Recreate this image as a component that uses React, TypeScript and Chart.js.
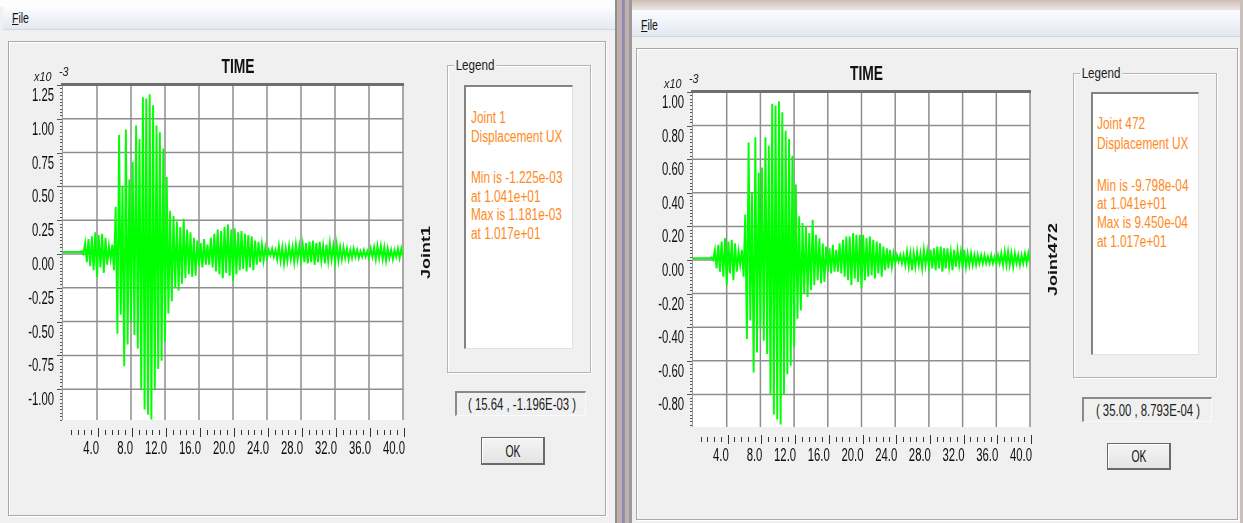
import React, { useEffect, useRef } from "react";
import { Chart, registerables } from "chart.js";
Chart.register(...registerables);

// ---------------- DATA ----------------
// Sampling step of the time axis, seconds (time of sample i = i * TIME_STEP)
const TIME_STEP = 0.2;

// Joint 1, Displacement UX, in units of 1e-3
const JOINT1_UX = [
  0.015, 0.015, 0.015, 0.015, 0.015, 0.015, 0.015, 0.015, 0.015, 0.015,
  0.015, 0.02, 0.0, 0.08, -0.06, 0.11, -0.09, 0.13, -0.12, 0.16,
  -0.17, 0.14, -0.1, 0.15, -0.14, 0.12, -0.08, 0.06, -0.04, 0.07,
  -0.12, 0.35, -0.59, 0.88, -0.45, 0.5, -0.83, 0.92, -0.67, 0.55,
  -0.5, 0.68, -0.6, 0.95, -0.7, 0.85, -1.0, 1.16, -1.15, 1.15,
  -1.19, 1.181, -1.225, 1.1, -1.0, 0.95, -0.85, 0.9, -0.79, 0.78,
  -0.65, 0.57, -0.44, 0.32, -0.35, 0.28, -0.25, 0.24, -0.27, 0.2,
  -0.22, 0.26, -0.18, 0.18, -0.15, 0.16, -0.17, 0.12, -0.16, 0.1,
  -0.09, 0.08, -0.1, 0.11, -0.08, 0.07, -0.08, 0.12, -0.1, 0.15,
  -0.13, 0.18, -0.15, 0.17, -0.18, 0.2, -0.14, 0.22, -0.16, 0.18,
  -0.2, 0.19, -0.15, 0.16, -0.12, 0.17, -0.11, 0.15, -0.13, 0.14,
  -0.1, 0.13, -0.12, 0.1, -0.08, 0.09, -0.06, 0.07, -0.05, 0.05,
  -0.03, 0.03, -0.01, 0.04, -0.02, 0.03, -0.04, 0.06, -0.05, 0.05,
  -0.07, 0.04, -0.05, 0.06, -0.04, 0.05, -0.06, 0.07, -0.04, 0.06,
  -0.05, 0.07, -0.06, 0.08, -0.07, 0.09, -0.06, 0.1, -0.08, 0.08,
  -0.06, 0.09, -0.05, 0.06, -0.07, 0.07, -0.05, 0.08, -0.04, 0.06,
  -0.06, 0.07, -0.05, 0.05, -0.04, 0.05, -0.03, 0.04, -0.04, 0.03,
  -0.03, 0.04, -0.02, 0.03, -0.03, 0.02, -0.02, 0.03, -0.02, 0.02,
  -0.03, 0.04, -0.02, 0.05, -0.04, 0.06, -0.03, 0.06, -0.04, 0.05,
  -0.05, 0.04, -0.03, 0.03, -0.04, 0.03, -0.02, 0.04, -0.03, 0.04,
  -0.02,
];

// Joint 472, Displacement UX, in units of 1e-3
const JOINT472_UX = [
  0.01, 0.01, 0.01, 0.01, 0.01, 0.01, 0.01, 0.01, 0.01, 0.01,
  0.01, 0.015, 0.0, 0.06, -0.05, 0.09, -0.07, 0.11, -0.1, 0.13,
  -0.15, 0.11, -0.08, 0.12, -0.12, 0.1, -0.07, 0.05, -0.03, 0.06,
  -0.1, 0.27, -0.47, 0.7, -0.36, 0.4, -0.67, 0.73, -0.55, 0.52,
  -0.4, 0.55, -0.48, 0.73, -0.56, 0.68, -0.8, 0.93, -0.92, 0.92,
  -0.95, 0.945, -0.9798, 0.88, -0.8, 0.77, -0.68, 0.72, -0.63, 0.62,
  -0.52, 0.45, -0.35, 0.26, -0.3, 0.22, -0.2, 0.2, -0.22, 0.16,
  -0.18, 0.24, -0.15, 0.15, -0.12, 0.13, -0.14, 0.1, -0.13, 0.08,
  -0.07, 0.07, -0.08, 0.09, -0.07, 0.06, -0.07, 0.1, -0.08, 0.12,
  -0.1, 0.14, -0.12, 0.14, -0.15, 0.16, -0.11, 0.15, -0.13, 0.15,
  -0.17, 0.15, -0.12, 0.13, -0.1, 0.14, -0.09, 0.12, -0.11, 0.11,
  -0.08, 0.1, -0.1, 0.08, -0.06, 0.07, -0.05, 0.06, -0.04, 0.04,
  -0.02, 0.03, -0.01, 0.03, -0.02, 0.03, -0.03, 0.05, -0.04, 0.04,
  -0.06, 0.04, -0.04, 0.05, -0.03, 0.04, -0.05, 0.06, -0.03, 0.05,
  -0.04, 0.06, -0.05, 0.07, -0.06, 0.08, -0.05, 0.08, -0.07, 0.07,
  -0.05, 0.07, -0.04, 0.05, -0.06, 0.06, -0.04, 0.06, -0.03, 0.05,
  -0.05, 0.06, -0.04, 0.04, -0.03, 0.04, -0.03, 0.03, -0.03, 0.03,
  -0.02, 0.03, -0.02, 0.03, -0.02, 0.02, -0.02, 0.03, -0.02, 0.02,
  -0.02, 0.03, -0.02, 0.04, -0.03, 0.05, -0.03, 0.05, -0.03, 0.04,
  -0.04, 0.04, -0.02, 0.03, -0.03, 0.03, -0.02, 0.04, -0.02, 0.04,
  -0.02,
];

// Axis ticks
const X_MAX = 40;
const X_TICKS = [4, 8, 12, 16, 20, 24, 28, 32, 36, 40];
const X_MINOR_STEP = 0.8;
const JOINT1_Y_TICKS = [-1.0, -0.75, -0.5, -0.25, 0.0, 0.25, 0.5, 0.75, 1.0, 1.25];
const JOINT472_Y_TICKS = [-0.8, -0.6, -0.4, -0.2, 0.0, 0.2, 0.4, 0.6, 0.8, 1.0];

const JOINT1_LEGEND = ["Joint 1", "Displacement  UX", "", "Min is -1.225e-03", "at 1.041e+01", "Max is 1.181e-03", "at 1.017e+01"];
const JOINT472_LEGEND = ["Joint 472", "Displacement  UX", "", "Min is -9.798e-04", "at 1.041e+01", "Max is 9.450e-04", "at 1.017e+01"];

// ---------------- HELPERS ----------------
const FONT = "'Liberation Sans', Arial, sans-serif";
const W = 1243;
const H = 523;

function ctext(ctx: CanvasRenderingContext2D, s: string, x: number, y: number, o: any) {
  ctx.save();
  ctx.translate(x, y);
  if (o.rot) ctx.rotate(o.rot);
  ctx.scale(o.sx ?? 1, o.sy ?? 1);
  ctx.font = `${o.italic ? "italic " : ""}${o.bold ? "bold " : ""}${o.size}px ${FONT}`;
  ctx.fillStyle = o.color ?? "#0d0d0d";
  ctx.textAlign = o.align ?? "left";
  ctx.textBaseline = "alphabetic";
  ctx.fillText(s, 0, o.size * 0.36);
  ctx.restore();
}

function Txt({ x, y, children, size = 16, sx = 0.73, color = "#1a1a1a", weight = 400, align = "left", bg }: any) {
  const h = Math.round(size * 1.2);
  const style: any = {
    position: "absolute",
    top: y - h / 2,
    height: h,
    lineHeight: h + "px",
    fontSize: size,
    color,
    fontWeight: weight,
    whiteSpace: "nowrap",
    transform: `scaleX(${sx})`,
    transformOrigin: "left center",
  };
  if (bg) {
    style.background = bg;
    style.padding = "0 2px";
  }
  if (align === "left") style.left = x;
  else {
    style.left = x;
    style.transformOrigin = "center center";
    style.transform = `translateX(-50%) scaleX(${sx})`;
  }
  return <div style={style}>{children}</div>;
}

function Box({ x, y, w, h, style }: any) {
  return <div style={{ position: "absolute", left: x, top: y, width: w, height: h, boxSizing: "border-box", ...style }} />;
}

// ---------------- CHART ----------------
function TimeChart({ left, top, width, height, pad, values, yMin, yMax, yTicks, yMinor, sideLabel }: any) {
  const ref = useRef<HTMLCanvasElement | null>(null);
  useEffect(() => {
    const canvas = ref.current;
    if (!canvas) return;
    const decor = {
      id: "sapDecor",
      beforeDatasetsDraw(chart: any) {
        const { ctx, chartArea: a, scales } = chart;
        const xs = scales.x;
        const ys = scales.y;
        ctx.save();
        ctx.fillStyle = "#ffffff";
        ctx.fillRect(a.left, a.top, a.right - a.left, a.bottom - a.top);
        ctx.strokeStyle = "#8e8e8e";
        ctx.lineWidth = 1.5;
        ctx.beginPath();
        for (const t of X_TICKS) {
          const x = xs.getPixelForValue(t);
          ctx.moveTo(x, a.top);
          ctx.lineTo(x, a.bottom);
        }
        for (const v of yTicks) {
          const y = ys.getPixelForValue(v);
          if (y < a.top + 2) continue;
          ctx.moveTo(a.left, y);
          ctx.lineTo(a.right, y);
        }
        ctx.stroke();
        ctx.restore();
      },
      afterDatasetsDraw(chart: any) {
        const { ctx, chartArea: a, scales } = chart;
        const xs = scales.x;
        const ys = scales.y;
        ctx.save();
        // left axis line
        ctx.strokeStyle = "#9a9a9a";
        ctx.lineWidth = 1;
        ctx.beginPath();
        ctx.moveTo(a.left - 0.5, a.top);
        ctx.lineTo(a.left - 0.5, a.bottom);
        ctx.stroke();
        // y minor & major ticks
        ctx.strokeStyle = "#555";
        ctx.beginPath();
        const k0 = Math.ceil(yMin / yMinor - 1e-6);
        const k1 = Math.floor(yMax / yMinor + 1e-6);
        for (let k = k0; k <= k1; k++) {
          const y = Math.round(ys.getPixelForValue(k * yMinor)) + 0.5;
          ctx.moveTo(a.left - 3, y);
          ctx.lineTo(a.left - 1, y);
        }
        for (const v of yTicks) {
          const y = Math.round(ys.getPixelForValue(v)) + 0.5;
          ctx.moveTo(a.left - 6, y);
          ctx.lineTo(a.left - 1, y);
        }
        ctx.stroke();
        // top border
        ctx.strokeStyle = "#6e6e6e";
        ctx.lineWidth = 3;
        ctx.beginPath();
        ctx.moveTo(a.left - 2, a.top - 0.5);
        ctx.lineTo(a.right + 1, a.top - 0.5);
        ctx.stroke();
        // x tick row
        ctx.strokeStyle = "#333";
        ctx.lineWidth = 1;
        ctx.beginPath();
        const nMinor = Math.round(X_MAX / X_MINOR_STEP);
        for (let k = 1; k <= nMinor; k++) {
          const t = k * X_MINOR_STEP;
          const major = Math.abs(t / 4 - Math.round(t / 4)) < 1e-6;
          const x = Math.round(xs.getPixelForValue(t)) + 1.5;
          ctx.moveTo(x, a.bottom + (major ? 8 : 10));
          ctx.lineTo(x, a.bottom + (major ? 17 : 15));
        }
        ctx.stroke();
        // y labels
        for (const v of yTicks) {
          ctext(ctx, v.toFixed(2), a.left - 9, ys.getPixelForValue(v) + 9.5, { size: 18, sx: 0.63, align: "right" });
        }
        // x labels
        for (const t of X_TICKS) {
          ctext(ctx, t.toFixed(1), xs.getPixelForValue(t) + 2, a.bottom + 28, { size: 18, sx: 0.63, align: "right" });
        }
        // title
        ctext(ctx, "TIME", (a.left + a.right) / 2 + 5, a.top - 20, { size: 21, sx: 0.66, bold: true, align: "center", color: "#111" });
        // exponent
        ctext(ctx, "x10", a.left - 29, a.top - 8, { size: 12, sx: 0.9, italic: true, color: "#222" });
        ctext(ctx, "-3", a.left - 4, a.top - 13, { size: 12, sx: 0.9, italic: true, color: "#222" });
        // side label
        ctext(ctx, sideLabel, a.right + 22, (a.top + a.bottom) / 2, { size: 18, sy: 0.75, bold: true, align: "center", rot: -Math.PI / 2, color: "#111" });
        ctx.restore();
      },
    };
    const chart = new Chart(canvas, {
      type: "line",
      data: {
        datasets: [
          {
            data: values.map((v: number, i: number) => ({ x: i * TIME_STEP, y: v })),
            borderColor: "#00ff00",
            borderWidth: 1.9,
            pointRadius: 0,
            tension: 0,
            fill: false,
          },
        ],
      },
      options: {
        animation: false,
        responsive: false,
        events: [],
        layout: { padding: pad },
        plugins: { legend: { display: false }, tooltip: { enabled: false }, title: { display: false } },
        scales: {
          x: { type: "linear", min: 0, max: X_MAX, display: false },
          y: { type: "linear", min: yMin, max: yMax, display: false },
        },
      } as any,
      plugins: [decor],
    });
    return () => chart.destroy();
  }, []);
  return <canvas ref={ref} width={width} height={height} style={{ position: "absolute", left, top, width, height }} />;
}

function Legend({ gx, gy, gw, gh, ix, iy, iw, ih, tx, lineYs, lines }: any) {
  return (
    <>
      <Box x={gx} y={gy} w={gw} h={gh} style={{ border: "1px solid #b4b4b4", boxShadow: "inset 1px 1px 0 #fff, 1px 1px 0 #fff" }} />
      <Txt x={gx + 7} y={gy} size={14} sx={0.83} bg="#f0f0f0">Legend</Txt>
      <Box
        x={ix}
        y={iy}
        w={iw}
        h={ih}
        style={{
          background: "#fff",
          borderTop: "2px solid #838383",
          borderLeft: "2px solid #838383",
          borderRight: "1px solid #e2e2e2",
          borderBottom: "1px solid #e2e2e2",
        }}
      />
      {lines.map((s: string, i: number) =>
        s ? (
          <Txt key={i} x={tx} y={lineYs[i]} size={16} sx={0.74} color="#ff8a1c">
            {s}
          </Txt>
        ) : null
      )}
    </>
  );
}

function CoordBox({ x, y, w, h, text }: any) {
  return (
    <>
      <Box
        x={x}
        y={y}
        w={w}
        h={h}
        style={{
          background: "#f0f0f0",
          borderTop: "2px solid #8a8a8a",
          borderLeft: "2px solid #8a8a8a",
          borderRight: "1px solid #fafafa",
          borderBottom: "1px solid #fafafa",
        }}
      />
      <Txt x={x + w / 2 + 1} y={y + h / 2 + 1} size={16} sx={0.71} align="center" color="#222">
        {text}
      </Txt>
    </>
  );
}

function OkButton({ x, y, w, h }: any) {
  return (
    <>
      <Box
        x={x}
        y={y}
        w={w}
        h={h}
        style={{
          background: "linear-gradient(#f4f4f4, #e4e4e4)",
          border: "1px solid #6a6a6a",
          borderRightWidth: 2,
          borderBottomWidth: 2,
          boxShadow: "inset 1px 1px 0 #fff",
        }}
      />
      <Txt x={x + w / 2} y={y + h / 2} size={16} sx={0.65} align="center" color="#111">
        OK
      </Txt>
    </>
  );
}

export default function App() {
  return (
    <div
      style={{
        position: "fixed",
        left: 0,
        top: 0,
        width: W,
        height: H,
        overflow: "hidden",
        background: "#f0f0f0",
        fontFamily: FONT,
      }}
    >
      {/* ---- left window chrome ---- */}
      <Box x={0} y={0} w={615} h={7} style={{ background: "#fdfdfd" }} />
      <Box x={3} y={7} w={612} h={23} style={{ background: "linear-gradient(#fbfcfe, #e4e9f1)", borderBottom: "1px solid #d2d8e2" }} />
      <Txt x={12} y={18} size={15} sx={0.7} color="#111">
        <u>F</u>ile
      </Txt>
      <Box x={8} y={41} w={598} h={475} style={{ border: "1px solid #a8a8a8", boxShadow: "inset 1px 1px 0 #fff, 1px 1px 0 #fff" }} />

      {/* ---- gap between windows ---- */}
      <Box
        x={615}
        y={0}
        w={17}
        h={H}
        style={{
          background:
            "linear-gradient(to right, #8f8f8f 0px, #8f8f8f 2px, #bfaea8 2px, #bfaea8 7px, #8a84b8 7px, #9690b8 10px, #c2b1ab 10px, #c2b1ab 14px, #9a9a9a 14px, #9a9a9a 17px)",
        }}
      />

      {/* ---- right window chrome ---- */}
      <Box x={632} y={0} w={611} h={10} style={{ background: "linear-gradient(#cdbdb6, #ece6e4)" }} />
      <Box x={632} y={10} w={611} h={27} style={{ background: "linear-gradient(#fbfcfe, #e3e9f2)", borderBottom: "1px solid #d2d8e2" }} />
      <Txt x={641} y={25} size={15} sx={0.7} color="#111">
        <u>F</u>ile
      </Txt>
      <Box x={636} y={48} w={602} h={472} style={{ border: "1px solid #a8a8a8", boxShadow: "inset 1px 1px 0 #fff, 1px 1px 0 #fff" }} />
      <Box x={1240} y={0} w={3} h={H} style={{ background: "#c9c0bc" }} />

      {/* ---- charts ---- */}
      <TimeChart
        left={10}
        top={42}
        width={430}
        height={440}
        pad={{ left: 53, top: 43, right: 37, bottom: 62 }}
        values={JOINT1_UX}
        yMin={-1.228}
        yMax={1.25}
        yTicks={JOINT1_Y_TICKS}
        yMinor={0.025}
        sideLabel="Joint1"
      />
      <TimeChart
        left={640}
        top={50}
        width={430}
        height={440}
        pad={{ left: 53, top: 42, right: 40, bottom: 63 }}
        values={JOINT472_UX}
        yMin={-0.994}
        yMax={1.0}
        yTicks={JOINT472_Y_TICKS}
        yMinor={0.02}
        sideLabel="Joint472"
      />

      {/* ---- left legend / info ---- */}
      <Legend gx={447} gy={65} gw={144} gh={308} ix={464} iy={85} iw={109} ih={264} tx={471} lineYs={[117, 136, 0, 177, 196, 214, 233]} lines={JOINT1_LEGEND} />
      <CoordBox x={455} y={391} w={131} h={25} text="( 15.64 , -1.196E-03 )" />
      <OkButton x={481} y={437} w={64} h={28} />

      {/* ---- right legend / info ---- */}
      <Legend gx={1073} gy={73} gw={144} gh={305} ix={1091} iy={92} iw={108} ih={263} tx={1097} lineYs={[123, 143, 0, 185, 203, 222, 241]} lines={JOINT472_LEGEND} />
      <CoordBox x={1082} y={397} w={130} h={25} text="( 35.00 , 8.793E-04 )" />
      <OkButton x={1107} y={443} w={64} h={27} />
    </div>
  );
}
